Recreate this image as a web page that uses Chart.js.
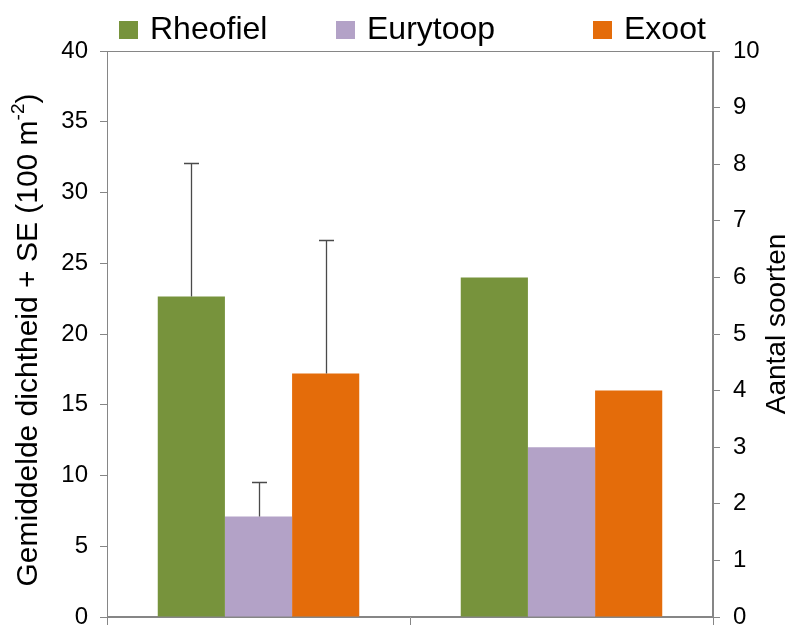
<!DOCTYPE html>
<html>
<head>
<meta charset="utf-8">
<script src="https://cdn.jsdelivr.net/npm/chart.js@4.4.0/dist/chart.umd.min.js"></script>
<style>
  html, body { margin: 0; padding: 0; background: #ffffff; }
  #wrap { width: 790px; height: 626px; position: relative; }
</style>
</head>
<body>
<div id="wrap"><canvas id="chart" width="790" height="626"></canvas></div>
<script>
// Two groups on the x axis: left group = mean density (left axis), right group = number of species (right axis)
const categories = ['', ''];
const groups = ['Rheofiel', 'Eurytoop', 'Exoot'];
const densityMean = [22.65, 7.1, 17.2];   // individuals per 100 m2
const densitySE = [9.45, 2.45, 9.45];     // standard error (drawn upward only)
const speciesCount = [6, 3, 4];           // aantal soorten
const groupColors = ['#77933C', '#B3A2C7', '#E46C0A'];

const FONT = '"Liberation Sans", Arial, Helvetica, sans-serif';
const AXIS_GREY = '#868686';

const datasets = [];
groups.forEach((g, i) => {
  datasets.push({
    label: g,
    data: [densityMean[i], null],
    yAxisID: 'y',
    backgroundColor: groupColors[i],
    borderWidth: 0,
    skipNull: true,
    barPercentage: 1,
    categoryPercentage: 0.665
  });
});
groups.forEach((g, i) => {
  datasets.push({
    label: g,
    data: [null, speciesCount[i]],
    yAxisID: 'y2',
    backgroundColor: groupColors[i],
    borderWidth: 0,
    skipNull: true,
    barPercentage: 1,
    categoryPercentage: 0.665
  });
});

// Upward-only error bars on the density bars
const errorBars = {
  id: 'errorBars',
  afterDatasetsDraw(chart) {
    const ctx = chart.ctx;
    const yScale = chart.scales.y;
    ctx.save();
    ctx.strokeStyle = '#4a4a4a';
    ctx.lineWidth = 1.3;
    groups.forEach((g, i) => {
      const bar = chart.getDatasetMeta(i).data[0];
      if (!bar) return;
      const x = Math.round(bar.x) + 0.5;
      const yTop = Math.round(yScale.getPixelForValue(densityMean[i] + densitySE[i])) + 0.5;
      ctx.beginPath();
      ctx.moveTo(x, bar.y);
      ctx.lineTo(x, yTop);
      ctx.moveTo(x - 7.5, yTop);
      ctx.lineTo(x + 7.5, yTop);
      ctx.stroke();
    });
    ctx.restore();
  }
};

// Plot-area frame (top and right edges complete the box)
const frame = {
  id: 'frame',
  beforeDatasetsDraw(chart) {
    const a = chart.chartArea;
    const ctx = chart.ctx;
    ctx.save();
    ctx.strokeStyle = AXIS_GREY;
    ctx.lineWidth = 1;
    ctx.strokeRect(Math.round(a.left) + 0.5, Math.round(a.top) + 0.5,
                   Math.round(a.right - a.left) - 1, Math.round(a.bottom - a.top) - 1);
    ctx.restore();
  }
};

// Legend row along the top and the rotated axis titles
const labelsAndTitles = {
  id: 'labelsAndTitles',
  afterDraw(chart) {
    const ctx = chart.ctx;
    const a = chart.chartArea;
    ctx.save();

    // legend
    const legendX = [119, 336, 593];
    ctx.font = '32px ' + FONT;
    ctx.textBaseline = 'alphabetic';
    ctx.textAlign = 'left';
    groups.forEach((g, i) => {
      ctx.fillStyle = groupColors[i];
      ctx.fillRect(legendX[i], 21, 19, 18);
      ctx.fillStyle = '#000000';
      ctx.fillText(g, legendX[i] + 31, 39);
    });

    // left title with superscript unit
    const mainFont = '30px ' + FONT;
    const supFont = '19px ' + FONT;
    const part1 = 'Gemiddelde dichtheid + SE (100 m';
    const sup = '-2';
    const part2 = ')';
    ctx.font = mainFont;
    const w1 = ctx.measureText(part1).width;
    const w3 = ctx.measureText(part2).width;
    ctx.font = supFont;
    const w2 = ctx.measureText(sup).width;
    const total = w1 + w2 + w3;
    const cy = (a.top + a.bottom) / 2 + 6;
    ctx.translate(37, cy);
    ctx.rotate(-Math.PI / 2);
    let x = -total / 2;
    ctx.fillStyle = '#000000';
    ctx.font = mainFont;
    ctx.fillText(part1, x, 0);
    x += w1;
    ctx.font = supFont;
    ctx.fillText(sup, x, -13);
    x += w2;
    ctx.font = mainFont;
    ctx.fillText(part2, x, 0);
    ctx.restore();

    // right title
    ctx.save();
    ctx.font = '28px ' + FONT;
    ctx.fillStyle = '#000000';
    ctx.textAlign = 'center';
    ctx.textBaseline = 'alphabetic';
    ctx.translate(785, (a.top + a.bottom) / 2 - 10);
    ctx.rotate(-Math.PI / 2);
    ctx.fillText('Aantal soorten', 0, 0);
    ctx.restore();
  }
};

const tickFont = { family: FONT, size: 24 };

new Chart(document.getElementById('chart'), {
  type: 'bar',
  data: { labels: categories, datasets: datasets },
  options: {
    responsive: false,
    animation: false,
    events: [],
    layout: { padding: { top: 51, left: 0, right: 0, bottom: 0 } },
    plugins: {
      legend: { display: false },
      tooltip: { enabled: false },
      title: { display: false }
    },
    scales: {
      x: {
        type: 'category',
        offset: true,
        grid: { offset: true, drawOnChartArea: false, drawTicks: true, tickLength: 8, color: AXIS_GREY, lineWidth: 1 },
        border: { display: true, color: AXIS_GREY, width: 1 },
        ticks: { display: false },
        afterFit(s) { s.height = 9; s.paddingLeft = 0; s.paddingRight = 0; }
      },
      y: {
        position: 'left',
        min: 0,
        max: 40,
        ticks: { stepSize: 5, font: tickFont, color: '#000000', padding: 12 },
        grid: { drawOnChartArea: false, drawTicks: true, tickLength: 7, color: AXIS_GREY, lineWidth: 1 },
        border: { display: true, color: AXIS_GREY, width: 1 },
        afterFit(s) { s.width = 107; s.paddingTop = 0; s.paddingBottom = 0; }
      },
      y2: {
        position: 'right',
        min: 0,
        max: 10,
        ticks: { stepSize: 1, font: tickFont, color: '#000000', padding: 13 },
        grid: { drawOnChartArea: false, drawTicks: true, tickLength: 7, color: AXIS_GREY, lineWidth: 1 },
        border: { display: true, color: AXIS_GREY, width: 1 },
        afterFit(s) { s.width = 77; s.paddingTop = 0; s.paddingBottom = 0; }
      }
    }
  },
  plugins: [frame, errorBars, labelsAndTitles]
});
</script>
</body>
</html>
